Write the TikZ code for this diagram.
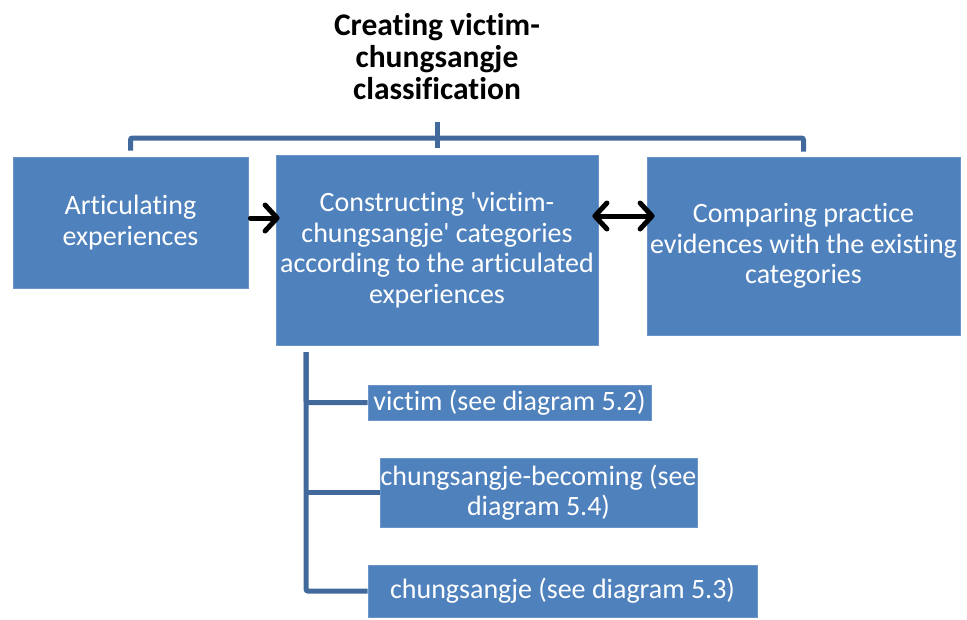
\documentclass[tikz,border=0pt]{standalone}
\usepackage{fontspec}
\setmainfont{Carlito}[RawFeature=-liga]
\usetikzlibrary{arrows.meta,calc}
\definecolor{boxblue}{HTML}{4F81BD}
\definecolor{boxedge}{HTML}{6B95C8}
\definecolor{linkblue}{HTML}{41699B}
\begin{document}
\begin{tikzpicture}[x=1pt,y=-1pt,
  box/.style={fill=boxblue, draw=boxedge, line width=0.8pt, text=white,
    align=center, inner sep=0pt, font=\fontsize{28}{30.5}\selectfont},
  link/.style={draw=linkblue, line width=5pt, rounded corners=2pt},
  arr/.style={draw=black, line width=5pt, line cap=round,
    -{Straight Barb[length=12pt,width=26pt,line cap=round,line join=round]}},
  darr/.style={arr, {Straight Barb[length=12pt,width=26pt,line cap=round,line join=round]}-{Straight Barb[length=12pt,width=26pt,line cap=round,line join=round]}},
  title/.style={align=center, font=\fontsize{31.5}{32}\selectfont\bfseries}
]
\useasboundingbox (0,0) rectangle (967,619);

% heading
\node[title] (head) at (437,57) {Creating victim-\\chungsangje\\classification};

% main row
\node[box, minimum width=235pt, minimum height=131pt] (A) at (130.5,222.5)
  {Articulating\\experiences};
\node[box, minimum width=322pt, minimum height=190pt] (B) at (437,250)
  {Constructing \textquotesingle victim-\\chungsangje\textquotesingle{} categories\\according to the articulated\\experiences};
\node[box, minimum width=313pt, minimum height=178pt] (C) at (803.5,246)
  {Comparing practice\\evidences with the existing\\categories};

% sub-categories
\node[box, minimum width=283pt, minimum height=35pt] (V) at (509.5,402.5)
  {victim (see diagram 5.2)};
\node[box, minimum width=317pt, minimum height=69pt] (CB) at (538.5,492.5)
  {chungsangje-becoming (see\\diagram 5.4)};
\node[box, minimum width=389pt, minimum height=52pt] (CS) at (562.5,591)
  {chungsangje (see diagram 5.3)};

% bracket under the heading
\coordinate (bar) at (437,138);
\draw[link] ([yshift=6pt]A.north) |- (bar) -| ([yshift=5pt]C.north);
\draw[link, rounded corners=0pt] ([yshift=7pt]B.north) -- ([yshift=33pt]B.north);

% arrows between the main boxes
\coordinate (ay) at (0,218);
\coordinate (dy) at (0,216);
\draw[arr] ($(A.east |- ay)+(2,0)$) -- ($(B.west |- ay)+(4,0)$);
\draw[darr] ($(B.east |- dy)+(-6,0)$) -- ($(C.west |- dy)+(8,0)$);

% tree of sub-categories
\coordinate (trunk) at (306,352);
\draw[link] (trunk) |- (V.west);
\draw[link] (trunk) |- (CS.west);
\draw[link] (trunk |- CB.west) -- (CB.west);
\end{tikzpicture}
\end{document}
